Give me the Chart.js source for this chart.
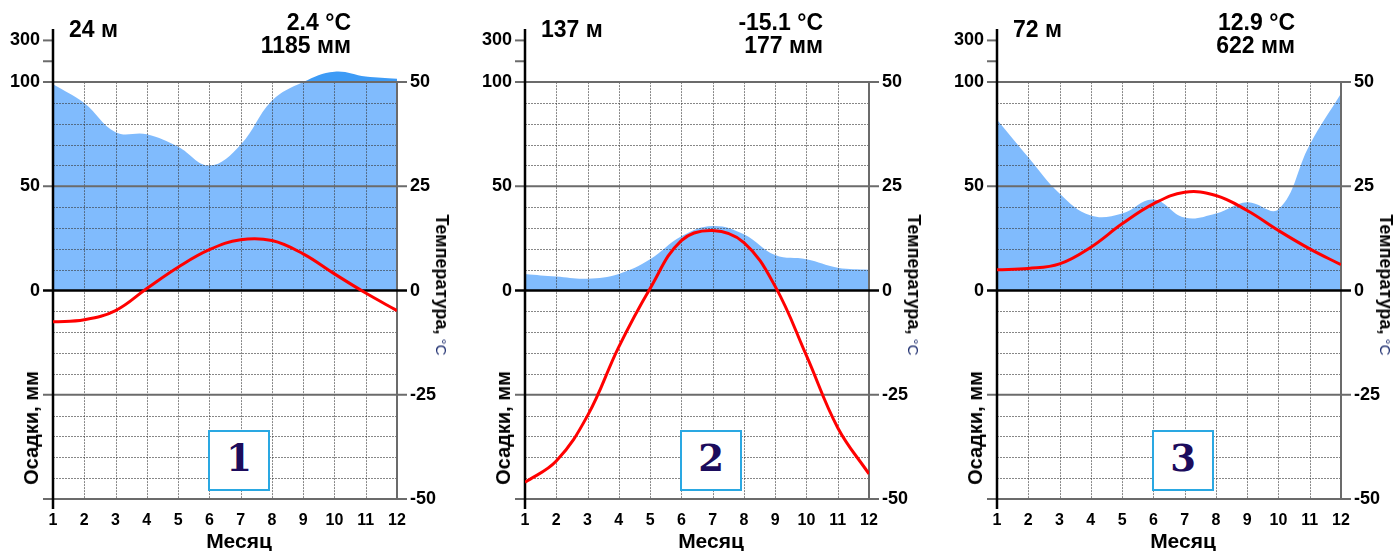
<!DOCTYPE html>
<html><head><meta charset="utf-8">
<script src="https://cdn.jsdelivr.net/npm/chart.js@4.4.1/dist/chart.umd.min.js"></script>
<style>
body{margin:0;background:#fff;width:1399px;height:551px;overflow:hidden;font-family:"Liberation Sans",Arial,sans-serif;}
.panel{position:absolute;top:0;width:472px;height:551px;}
.panel canvas{position:absolute;left:0;top:0;}
.t{position:absolute;font-weight:bold;color:#000;white-space:nowrap;line-height:1;}
.box{position:absolute;left:208px;top:430px;width:62px;height:61px;box-sizing:border-box;border:2px solid #2aa8e2;background:#fff;display:flex;align-items:center;justify-content:center;font-family:"DejaVu Serif",serif;font-weight:bold;font-size:37px;color:#1c0c5c;line-height:1;padding-bottom:4px;}
</style>
</head><body>
<script>
// ---- data ----
const months = [1,2,3,4,5,6,7,8,9,10,11,12];
const precip1 = [99, 90, 76, 75, 69, 60, 70, 91, 100, 150, 127, 116];
const temp1   = [-7.5, -7.0, -4.8, 0.5, 5.6, 9.8, 12.2, 12.0, 8.8, 4.0, -0.6, -4.8];
const precip2 = [8, 6.7, 5.7, 8, 15, 26, 31, 27, 17, 15, 11, 10];
const temp2   = [-46, -40.9, -30.0, -13.5, 0.5, 12.0, 14.4, 11.5, 1.0, -15.6, -32.9, -44];
const precip3 = [82, 64, 46.6, 36, 37, 43.7, 35, 37, 42.4, 39, 70, 94.5];
const temp3   = [5.0, 5.3, 6.4, 10.4, 16.0, 20.8, 23.6, 22.8, 19.2, 14.4, 10.0, 6.2];
const elevations = ['24 м', '137 м', '72 м'];
const meanTemps  = ['2.4 °C', '-15.1 °C', '12.9 °C'];
const totals     = ['1185 мм', '177 мм', '622 мм'];
const panelNames = ['1', '2', '3'];
const precipTickValues = [0, 50, 100, 200, 300];
const precipTickLabels = ['0', '50', '100', '', '300'];
const tempTickValues = [-50, -25, 0, 25, 50];
const tempTickLabels = ['-50', '-25', '0', '25', '50'];

const precipSeries = [precip1, precip2, precip3];
const tempSeries = [temp1, temp2, temp3];

// ---- helpers ----
const FONT = '"Liberation Sans", Arial, sans-serif';
const LIGHT = '#80bbfd';
const DARK = '#3d9bf6';
// Walter-Lieth: above 100 mm the scale is compressed 1:10
function tr(p){ return p <= 100 ? p : 100 + (p - 100) / 10; }
const PREC_TOP = 125;

function fillGradient(ctx){
  const chart = ctx.chart; const ca = chart.chartArea;
  if (!ca) return LIGHT;
  const y100 = chart.scales.y.getPixelForValue(100);
  const s = Math.min(1, Math.max(0, (y100 - ca.top) / (ca.bottom - ca.top)));
  const g = chart.ctx.createLinearGradient(0, ca.top, 0, ca.bottom);
  g.addColorStop(0, DARK); g.addColorStop(s, DARK);
  g.addColorStop(s, LIGHT); g.addColorStop(1, LIGHT);
  return g;
}

const gridPlugin = {
  id: 'climaGrid',
  afterDatasetDraw(chart, args){
    if (args.index !== 1) return;
    const ctx = chart.ctx, ca = chart.chartArea;
    const xs = chart.scales.x, yt = chart.scales.y1, yp = chart.scales.y;
    const X = v => xs.getPixelForValue(v), Y = v => yt.getPixelForValue(v);
    const line = (x1, y1, x2, y2) => { ctx.beginPath(); ctx.moveTo(x1, y1); ctx.lineTo(x2, y2); ctx.stroke(); };
    ctx.save();
    ctx.setLineDash([2, 1]); ctx.lineWidth = 1; ctx.strokeStyle = 'rgba(55,55,55,0.6)';
    for (let t = -45; t <= 45; t += 5) {
      if (t % 25 === 0) continue;
      const y = Math.round(Y(t)) + 0.5;
      line(ca.left, y, ca.right, y);
    }
    for (let i = 1; i < months.length - 1; i++) {
      const x = Math.round(X(months[i])) + 0.5;
      line(x, Y(tempTickValues[4]), x, Y(tempTickValues[0]));
    }
    ctx.setLineDash([]);
    ctx.lineWidth = 2; ctx.strokeStyle = '#6b6b6b';
    tempTickValues.forEach(t => { if (t !== 0) line(ca.left - 10, Y(t), ca.right + 10, Y(t)); });
    [200, 300].forEach(p => { const y = yp.getPixelForValue(tr(p)); line(ca.left - 10, y, ca.left, y); });
    line(ca.right, Y(tempTickValues[4]), ca.right, Y(tempTickValues[0]));
    ctx.strokeStyle = '#000'; ctx.lineWidth = 2.5;
    line(ca.left - 10, Y(0), ca.right + 10, Y(0));
    line(ca.left, ca.top - 1, ca.left, Y(tempTickValues[0]) + 10);
    ctx.restore();
  }
};

function makeChart(canvas, precip, temp){
  return new Chart(canvas, {
    type: 'line',
    data: {
      datasets: [
        { label: 'Температура', data: months.map((m, i) => ({x: m, y: temp[i]})), yAxisID: 'y1',
          borderColor: '#ff0000', borderWidth: 3, pointRadius: 0, tension: 0.4, fill: false, order: 0 },
        { label: 'Осадки', data: months.map((m, i) => ({x: m, y: tr(precip[i])})), yAxisID: 'y',
          borderColor: 'rgba(0,0,0,0)', borderWidth: 0, pointRadius: 0, tension: 0.4, fill: 'origin',
          backgroundColor: fillGradient, order: 1 }
      ]
    },
    options: {
      responsive: false, animation: false, maintainAspectRatio: false,
      layout: { padding: { top: 30, left: 0, right: 0, bottom: 0 } },
      plugins: { legend: { display: false }, tooltip: { enabled: false } },
      scales: {
        x: { type: 'linear', min: 1, max: 12,
             grid: { display: false, drawTicks: false }, border: { display: false },
             ticks: { autoSkip: false, maxRotation: 0, padding: 12, color: '#000',
                      font: { family: FONT, size: 16, weight: 'bold' } },
             afterBuildTicks: s => { s.ticks = months.map(v => ({value: v})); },
             afterFit: s => { s.height = 52; } },
        y: { type: 'linear', position: 'left', min: -100, max: PREC_TOP,
             grid: { display: false, drawTicks: false }, border: { display: false },
             ticks: { padding: 13, color: '#000', font: { family: FONT, size: 18, weight: 'bold' },
                      callback: (v, i) => precipTickLabels[i] },
             afterBuildTicks: s => { s.ticks = precipTickValues.map(v => ({value: tr(v)})); },
             afterFit: s => { s.width = 53; } },
        y1: { type: 'linear', position: 'right', min: -50, max: PREC_TOP / 2,
             grid: { display: false, drawTicks: false }, border: { display: false },
             ticks: { padding: 13, color: '#000', font: { family: FONT, size: 18, weight: 'bold' },
                      callback: (v, i) => tempTickLabels[i] },
             afterBuildTicks: s => { s.ticks = tempTickValues.map(v => ({value: v})); },
             afterFit: s => { s.width = 75; } }
      }
    },
    plugins: [gridPlugin]
  });
}

const offsets = [0, 472, 944];
for (let k = 0; k < 3; k++) {
  const p = document.createElement('div');
  p.className = 'panel'; p.style.left = offsets[k] + 'px';
  const c = document.createElement('canvas');
  c.width = 472; c.height = 551; c.style.width = '472px'; c.style.height = '551px';
  p.appendChild(c);
  p.insertAdjacentHTML('beforeend',
    `<div class="t" style="left:69px;top:18px;font-size:23px">${elevations[k]}</div>` +
    `<div class="t" style="left:0;width:351px;top:10.5px;font-size:23px;line-height:23px;text-align:right">${meanTemps[k]}<br>${totals[k]}</div>` +
    `<div class="t" style="left:239px;top:530px;font-size:21px;transform:translateX(-50%)">Месяц</div>` +
    `<div class="t" style="left:31px;top:428px;font-size:20px;transform:translate(-50%,-50%) rotate(-90deg)">Осадки, мм</div>` +
    `<div class="t" style="left:442px;top:285px;font-size:18px;transform:translate(-50%,-50%) rotate(90deg)">Температура,<span style="font-weight:normal;font-size:15px;color:#1f2f70"> °C</span></div>` +
    `<div class="box">${panelNames[k]}</div>`);
  document.body.appendChild(p);
  makeChart(c, precipSeries[k], tempSeries[k]);
}
</script>
</body></html>
